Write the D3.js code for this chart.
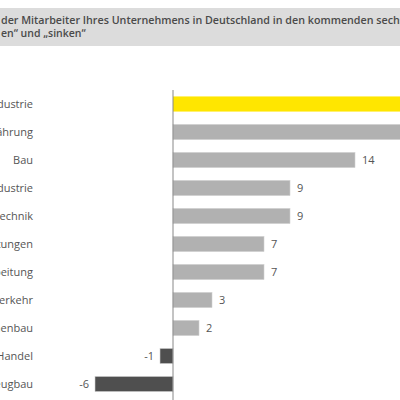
<!DOCTYPE html>
<html>
<head>
<meta charset="utf-8">
<script src="https://cdn.jsdelivr.net/npm/d3@7"></script>
<style>
  body { margin: 0; background: #fff; }
  svg { display: block; }
  .cat { font-family: "Open Sans", sans-serif; font-size: 11px; fill: #555; }
  .val { font-family: "Open Sans", sans-serif; font-size: 11px; fill: #555; }
  .title { font-family: "Open Sans", sans-serif; font-size: 10.5px; font-weight: 600; fill: #4a4a4a; }
</style>
</head>
<body>
<svg id="chart" width="400" height="400"></svg>
<script>
// sectors (left part cropped in the original)
const categories = [
  "Chemieindustrie", "Nahrung/Ernährung", "Bau", "Automobilindustrie",
  "Elektrotechnik", "Dienstleistungen", "Metallverarbeitung",
  "Transport/Verkehr", "Maschinenbau", "Handel", "Fahrzeugbau"
]
const values = [22, 19, 14, 9, 9, 7, 7, 3, 2, -1, -6]
const highlight = "Chemieindustrie"

const titleLines = [
  "der Mitarbeiter Ihres Unternehmens in Deutschland in den kommenden sechs",
  "en\u201c und \u201esinken\u201c"
]

const svg = d3.select("#chart")

// title box
svg.append("rect")
  .attr("x", 0)
  .attr("y", 8)
  .attr("width", 400)
  .attr("height", 38)
  .attr("fill", "#dcdcdc")

svg.selectAll(".title").data(titleLines).enter().append("text")
  .attr("class", "title")
  .attr("x", 1)
  .attr("y", (d, i) => 24 + i * 13)
  .text(d => d)
  .each(function (d, i) {
    if (i === 0) d3.select(this).attr("textLength", 404).attr("lengthAdjust", "spacingAndGlyphs")
  })

const xScale = d3.scaleLinear()
  .domain([-6, 18])
  .range([95, 407])

const yScale = d3.scaleBand()
  .domain(categories)
  .range([90, 398])
  .paddingInner(0.46)
  .paddingOuter(0.23)

const data = categories.map((c, i) => ({ cat: c, val: values[i] }))

function barColor(d) {
  if (d.cat === highlight) return "#ffe600"
  return d.val < 0 ? "#4f4f4f" : "#b1b1b1"
}

svg.selectAll(".bar").data(data).enter().append("rect")
  .attr("class", "bar")
  .attr("x", d => xScale(Math.min(0, d.val)))
  .attr("y", d => yScale(d.cat))
  .attr("width", d => Math.abs(xScale(d.val) - xScale(0)))
  .attr("height", yScale.bandwidth())
  .attr("fill", barColor)
  .attr("stroke", d => d.cat === highlight ? "none" : "#d0d0d0")
  .attr("stroke-width", 0.6)

// zero line
svg.append("line")
  .attr("x1", xScale(0))
  .attr("x2", xScale(0))
  .attr("y1", 90)
  .attr("y2", 400)
  .attr("stroke", "#888")
  .attr("stroke-width", 1)

// category labels
svg.selectAll(".cat").data(data).enter().append("text")
  .attr("class", "cat")
  .attr("x", 33)
  .attr("y", d => yScale(d.cat) + yScale.bandwidth() / 2)
  .attr("dy", "0.35em")
  .attr("text-anchor", "end")
  .text(d => d.cat)

// value labels
svg.selectAll(".val").data(data).enter().append("text")
  .attr("class", "val")
  .attr("x", d => d.val < 0 ? xScale(d.val) - 6 : xScale(d.val) + 7)
  .attr("y", d => yScale(d.cat) + yScale.bandwidth() / 2)
  .attr("dy", "0.35em")
  .attr("text-anchor", d => d.val < 0 ? "end" : "start")
  .text(d => d.val)
</script>
</body>
</html>
